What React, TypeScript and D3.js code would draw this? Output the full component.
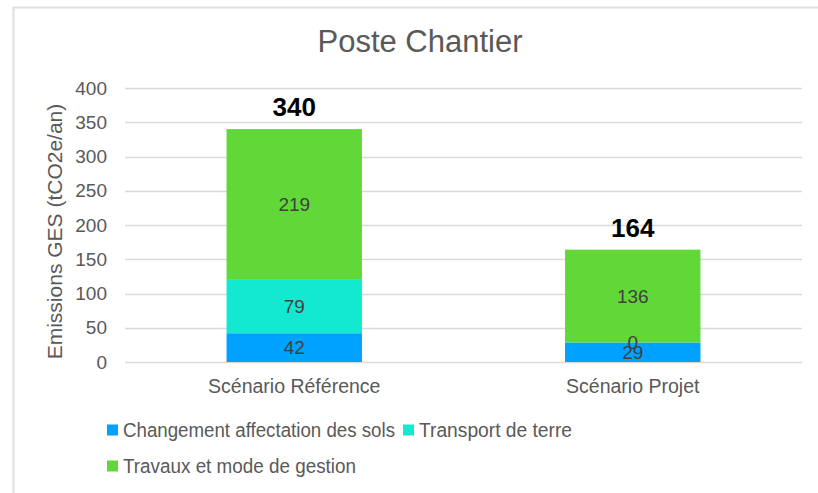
import React from "react";
import * as d3 from "d3";

const categories = ["Scénario Référence", "Scénario Projet"];
const seriesNames = ["Changement affectation des sols", "Transport de terre", "Travaux et mode de gestion"];
const seriesColors = ["#00A2FF", "#13E8D0", "#62D838"];
const changementValues = [42, 28.5];
const transportValues = [79, 0];
const travauxValues = [219, 135.5];
const totalLabels = ["340", "164"];
const yTicks = [0, 50, 100, 150, 200, 250, 300, 350, 400];

const W = 818;
const H = 493;
const FONT = "'Liberation Sans', Arial, Helvetica, sans-serif";

export default function App() {
  const x = d3.scaleBand<string>().domain(categories).range([125, 802]).paddingInner(0.6).paddingOuter(0.3);
  const y = d3.scaleLinear().domain([0, 400]).range([362, 88]);
  const seriesValues = [changementValues, transportValues, travauxValues];
  const rows = categories.map((c, i) => {
    const r: any = { cat: c };
    seriesNames.forEach((s, k) => (r[s] = seriesValues[k][i]));
    return r;
  });
  const stacked = d3.stack<any>().keys(seriesNames)(rows);
  const bw = x.bandwidth();

  const legendItems = [
    { i: 0, sx: 107, ty: 436.5, len: 272 },
    { i: 1, sx: 403, ty: 436.5, len: 153 },
    { i: 2, sx: 107, ty: 472.5, len: 233 },
  ];

  return (
    <svg width={W} height={H} style={{ position: "absolute", left: 0, top: 0, background: "#fff" }} fontFamily={FONT}>
      <rect x={13.5} y={7.5} width={W} height={H} fill="#fff" stroke="#dedede" strokeWidth={2} />
      <text x={420} y={52} textAnchor="middle" fontSize={31} fill="#595959">Poste Chantier</text>
      {yTicks.map((t) => (
        <g key={t}>
          <line x1={125} x2={802} y1={Math.round(y(t)) + 0.5} y2={Math.round(y(t)) + 0.5} stroke="#d9d9d9" strokeWidth={1.5} />
          <text x={107} y={y(t)} dy="0.35em" textAnchor="end" fontSize={19} fill="#595959">{t}</text>
        </g>
      ))}
      <text transform={`translate(62,231.5) rotate(-90)`} textAnchor="middle" fontSize={21} fill="#595959">
        Emissions GES (tCO2e/an)
      </text>
      {stacked.map((layer, k) => (
        <g key={layer.key}>
          {layer.map((d, i) => (
            <rect key={i} x={x(categories[i])!} y={y(d[1])} width={bw} height={y(d[0]) - y(d[1])} fill={seriesColors[k]} />
          ))}
        </g>
      ))}
      {stacked.map((layer) =>
        layer.map((d, i) => (
          <text key={layer.key + i} x={x(categories[i])! + bw / 2} y={y((d[0] + d[1]) / 2)} dy="0.35em" textAnchor="middle" fontSize={19} fill="#404040">
            {Math.round(d[1] - d[0])}
          </text>
        ))
      )}
      {categories.map((c, i) => (
        <text key={c} x={x(c)! + bw / 2} y={y(stacked[2][i][1]) - 13} textAnchor="middle" fontSize={26} fontWeight="bold" fill="#000">
          {totalLabels[i]}
        </text>
      ))}
      {categories.map((c) => (
        <text key={c} x={x(c)! + bw / 2} y={393} textAnchor="middle" fontSize={19.5} fill="#595959">{c}</text>
      ))}
      {legendItems.map(({ i, sx, ty, len }) => (
        <g key={i}>
          <rect x={sx} y={ty - 12} width={11} height={11} fill={seriesColors[i]} />
          <text x={sx + 16} y={ty} fontSize={19.5} fill="#595959" textLength={len} lengthAdjust="spacingAndGlyphs">{seriesNames[i]}</text>
        </g>
      ))}
    </svg>
  );
}
